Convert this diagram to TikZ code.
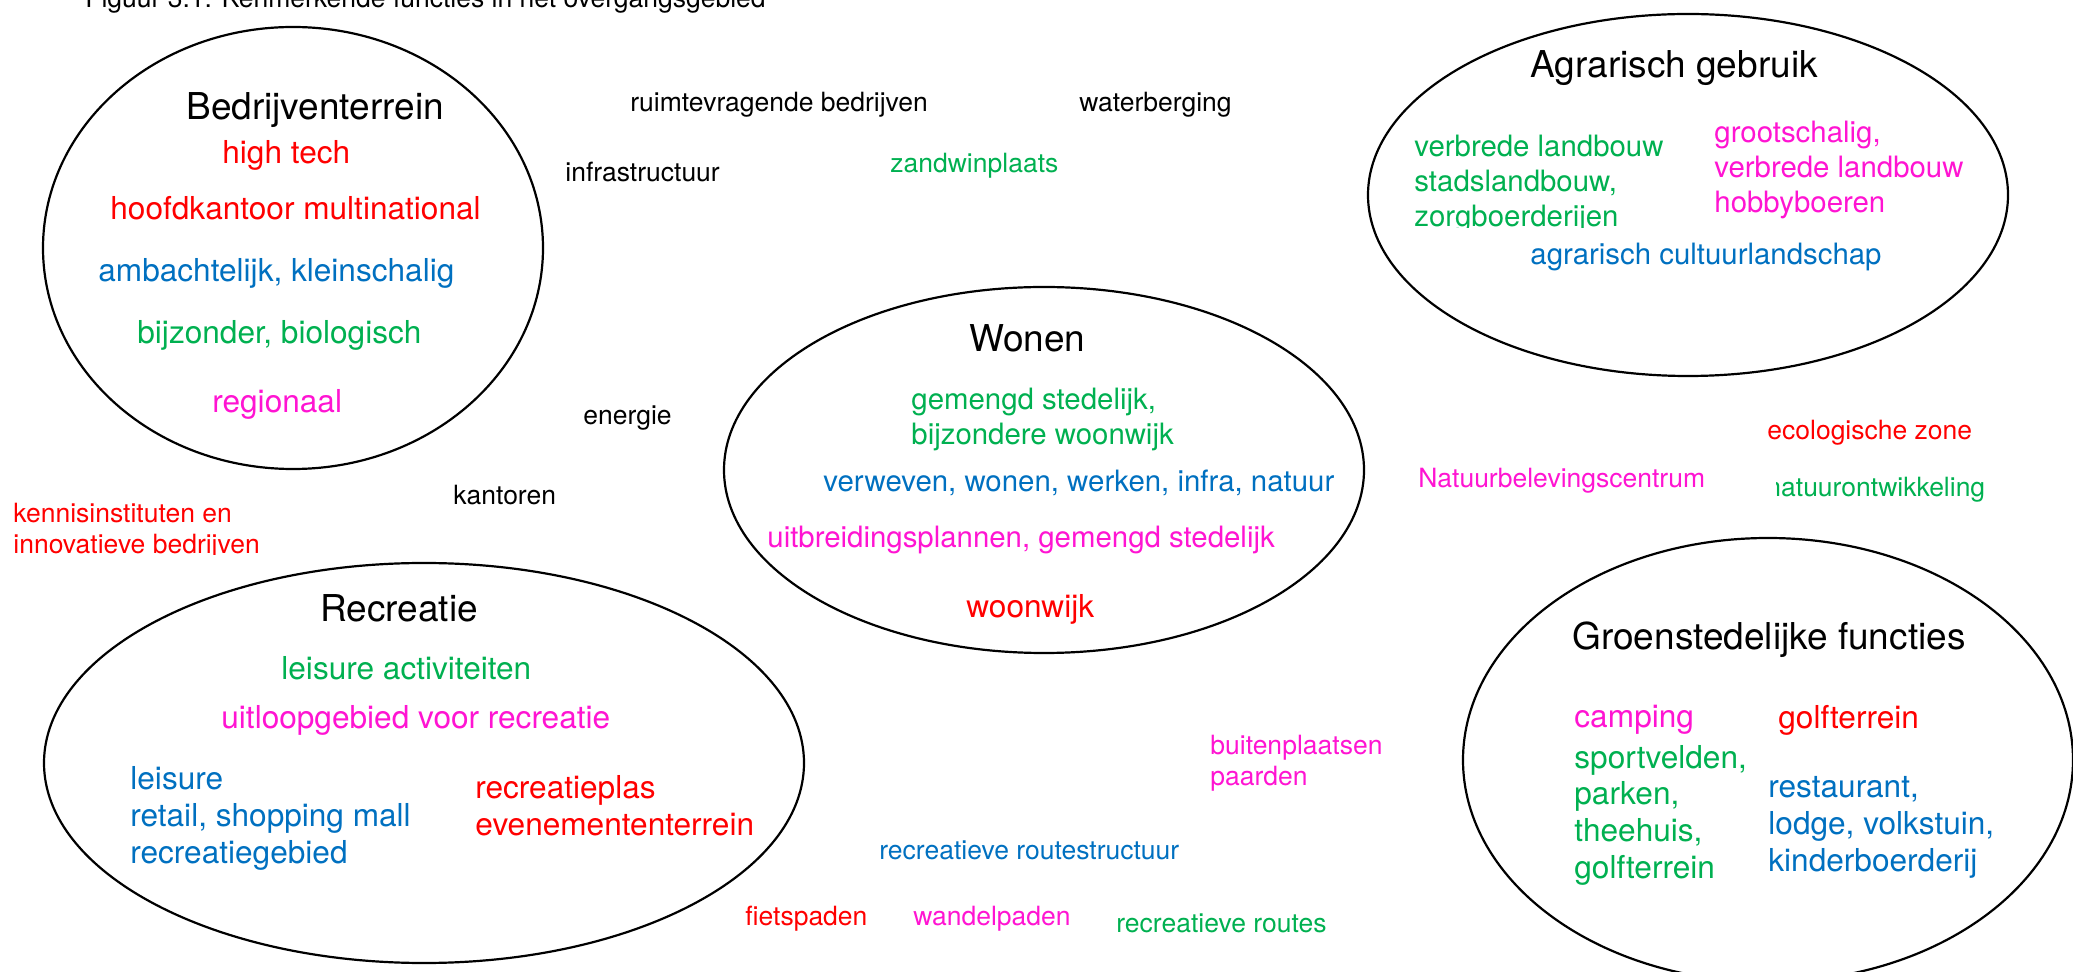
\documentclass[tikz,border=0pt]{standalone}
\usepackage{fontspec}
\setmainfont{TeX Gyre Heros}
\usepackage{tikz}
\usetikzlibrary{shapes.geometric}

\definecolor{fred}{RGB}{255,0,0}
\definecolor{fgreen}{RGB}{0,176,80}
\definecolor{fblue}{RGB}{0,112,192}
\definecolor{fpink}{RGB}{255,20,210}

\begin{document}
\begin{tikzpicture}[
            x=0.5pt, y=-0.5pt,
            zone/.style={ellipse, draw=black, line width=1.1pt, inner sep=0pt},
            title/.style={anchor=base west, inner sep=0pt, font=\fontsize{18.5pt}{22pt}\selectfont},
            item/.style={anchor=base west, inner sep=0pt, align=left, font=\fontsize{15.8pt}{18.3pt}\selectfont},
            itemsm/.style={anchor=base west, inner sep=0pt, align=left, font=\fontsize{14.7pt}{17.5pt}\selectfont},
            loose/.style={anchor=base west, inner sep=0pt, align=left, font=\fontsize{13.25pt}{15.5pt}\selectfont}
        ]

        \useasboundingbox (0,0) rectangle (2073,972);
        \clip (0,0) rectangle (2073,972);

        \node[loose] (caption) at (85,8) {Figuur 3.1: Kenmerkende functies in het overgangsgebied};

        % Bedrijventerrein
        \node[zone, minimum width=250pt, minimum height=221pt] (bedrijf) at (293,248) {};
        \node[title] (bedrijfT) at (186,120) {Bedrijventerrein};
        \node[item, text=fred] (hightech) at (222,164) {high tech};
        \node[item, text=fred] (hoofdk) at (110,220) {hoofdkantoor multinational};
        \node[item, text=fblue] (ambacht) at (98,282) {ambachtelijk, kleinschalig};
        \node[item, text=fgreen] (bijzonder) at (137,344) {bijzonder, biologisch};
        \node[item, text=fpink] (regio) at (212,413) {regionaal};

        % Agrarisch gebruik (multi-line nodes sit on their last line)
        \node[zone, minimum width=320pt, minimum height=181pt] (agrar) at (1688,195) {};
        \node[title] (agrarT) at (1530,78) {Agrarisch gebruik};
        \begin{scope}
            \clip (1400,100) rectangle (1700,228);
            \node[itemsm, text=fgreen] (verbreed) at (1414,227) {verbrede landbouw\\stadslandbouw,\\zorgboerderijen};
        \end{scope}
        \node[itemsm, text=fpink] (groot) at (1714,213) {grootschalig,\\verbrede landbouw\\hobbyboeren};
        \node[itemsm, text=fblue] (cultuur) at (1530,265) {agrarisch cultuurlandschap};

        % Wonen
        \node[zone, minimum width=320pt, minimum height=183pt] (wonen) at (1044,470) {};
        \node[title] (wonenT) at (969,352) {Wonen};
        \node[itemsm, text=fgreen] (gemengd) at (911,445) {gemengd stedelijk,\\bijzondere woonwijk};
        \node[itemsm, text=fblue] (verweven) at (823,492) {verweven, wonen, werken, infra, natuur};
        \node[itemsm, text=fpink] (uitbreid) at (767,548) {uitbreidingsplannen, gemengd stedelijk};
        \node[item, text=fred] (woonwijk) at (966,618) {woonwijk};

        % Recreatie
        \node[zone, minimum width=380pt, minimum height=200pt] (recr) at (424,763) {};
        \node[title] (recrT) at (320,622) {Recreatie};
        \node[item, text=fgreen] (leisact) at (281,680) {leisure activiteiten};
        \node[item, text=fpink] (uitloop) at (221,729) {uitloopgebied voor recreatie};
        \node[item, text=fblue] (leisure) at (130,863) {leisure\\retail, shopping mall\\recreatiegebied};
        \node[item, text=fred] (plas) at (475,835) {recreatieplas\\evenemententerrein};

        % Groenstedelijke functies
        \node[zone, minimum width=305pt, minimum height=222pt] (groen) at (1768,760) {};
        \node[title] (groenT) at (1572,650) {Groenstedelijke functies};
        \node[item, text=fpink] (camping) at (1574,727) {camping};
        \node[item, text=fred] (golf) at (1778,729) {golfterrein};
        \node[item, text=fgreen] (sport) at (1574,878) {sportvelden,\\parken,\\theehuis,\\golfterrein};
        \node[item, text=fblue] (restaurant) at (1768,871) {restaurant,\\lodge, volkstuin,\\kinderboerderij};

        % losse functies
        \node[loose] (ruimte) at (630,112) {ruimtevragende bedrijven};
        \node[loose] (water) at (1079,112) {waterberging};
        \node[loose] (infra) at (565,182) {infrastructuur};
        \node[loose, text=fgreen] (zand) at (890,173) {zandwinplaats};
        \node[loose] (energie) at (583,425) {energie};
        \node[loose] (kantoren) at (453,505) {kantoren};
        \begin{scope}
            \clip (0,480) rectangle (400,555);
            \node[loose, text=fred] (kennis) at (13,554) {kennisinstituten en\\innovatieve bedrijven};
        \end{scope}
        \node[loose, text=fred] (eco) at (1767,440) {ecologische zone};
        \node[loose, text=fpink] (beleving) at (1418,488) {Natuurbelevingscentrum};
        \begin{scope}
            \clip (1776,450) rectangle (2073,520);
            \node[loose, text=fgreen] (natontw) at (1766,497) {natuurontwikkeling};
        \end{scope}
        \node[loose, text=fpink] (buiten) at (1210,785) {buitenplaatsen\\paarden};
        \node[loose, text=fblue] (routestr) at (879,859) {recreatieve routestructuur};
        \node[loose, text=fred] (fiets) at (745,925) {fietspaden};
        \node[loose, text=fpink] (wandel) at (913,925) {wandelpaden};
        \node[loose, text=fgreen] (routes) at (1116,932) {recreatieve routes};

    \end{tikzpicture}
\end{document}
